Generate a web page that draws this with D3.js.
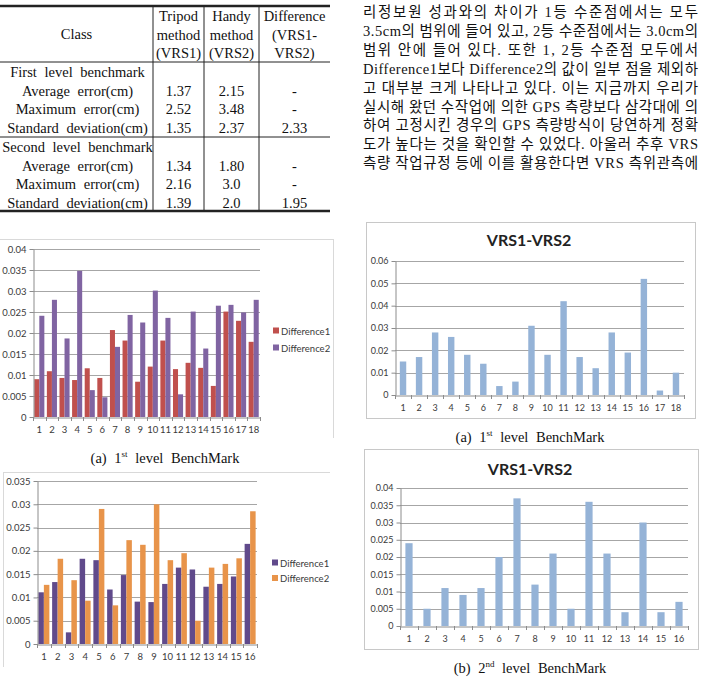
<!DOCTYPE html>
<html>
<head>
<meta charset="utf-8">
<script src="https://cdn.jsdelivr.net/npm/d3@7"></script>
<style>
  body { margin: 0; background: #fff; }
  svg { display: block; }
</style>
</head>
<body>
<svg id="page" width="705" height="678"></svg>
<script>
// ---- table data ----
const tableHead = [["Class"], ["Tripod", "method", "(VRS1)"], ["Handy", "method", "(VRS2)"], ["Difference", "(VRS1-", "VRS2)"]];
const tableRows = [
  ["First level benchmark", "", "", ""],
  ["Average error(cm)", "1.37", "2.15", "-"],
  ["Maximum error(cm)", "2.52", "3.48", "-"],
  ["Standard deviation(cm)", "1.35", "2.37", "2.33"],
  ["Second level benchmark", "", "", ""],
  ["Average error(cm)", "1.34", "1.80", "-"],
  ["Maximum error(cm)", "2.16", "3.0", "-"],
  ["Standard deviation(cm)", "1.39", "2.0", "1.95"]
];

// ---- paragraph text ----
const paraLines = [
  "리정보원 성과와의 차이가 1등 수준점에서는 모두",
  "3.5cm의 범위에 들어 있고, 2등 수준점에서는 3.0cm의",
  "범위 안에 들어 있다. 또한 1, 2등 수준점 모두에서",
  "Difference1보다 Difference2의 값이 일부 점을 제외하",
  "고 대부분 크게 나타나고 있다. 이는 지금까지 우리가",
  "실시해 왔던 수작업에 의한 GPS 측량보다 삼각대에 의",
  "하여 고정시킨 경우의 GPS 측량방식이 당연하게 정확",
  "도가 높다는 것을 확인할 수 있었다. 아울러 추후 VRS",
  "측량 작업규정 등에 이를 활용한다면 VRS 측위관측에"
];

// ---- chart data ----
const cats18 = ["1","2","3","4","5","6","7","8","9","10","11","12","13","14","15","16","17","18"];
const cats16 = ["1","2","3","4","5","6","7","8","9","10","11","12","13","14","15","16"];

const diff1First = [0.0090,0.0109,0.0093,0.0088,0.0116,0.0093,0.0207,0.0182,0.0084,0.0120,0.0182,0.0114,0.0129,0.0117,0.0074,0.0251,0.0229,0.0179];
const diff2First = [0.0241,0.0279,0.0187,0.0348,0.0064,0.0047,0.0167,0.0243,0.0225,0.0301,0.0236,0.0054,0.0251,0.0163,0.0265,0.0267,0.0249,0.0279];
const vrsFirst   = [0.015,0.017,0.028,0.026,0.018,0.014,0.004,0.006,0.031,0.018,0.042,0.017,0.012,0.028,0.019,0.052,0.002,0.010];

const diff1Second = [0.0111,0.0133,0.0025,0.0183,0.0180,0.0117,0.0148,0.0091,0.0090,0.0129,0.0164,0.0160,0.0123,0.0129,0.0145,0.0215];
const diff2Second = [0.0127,0.0183,0.0137,0.0093,0.0290,0.0083,0.0223,0.0213,0.0300,0.0180,0.0195,0.0050,0.0164,0.0172,0.0184,0.0285];
const vrsSecond   = [0.024,0.005,0.011,0.009,0.011,0.020,0.037,0.012,0.021,0.005,0.036,0.021,0.004,0.030,0.004,0.007];

const ticksA = [0,0.005,0.01,0.015,0.02,0.025,0.03,0.035,0.04];
const ticksB = [0,0.01,0.02,0.03,0.04,0.05,0.06];
const ticksC = [0,0.005,0.01,0.015,0.02,0.025,0.03,0.035];
const ticksD = [0,0.005,0.01,0.015,0.02,0.025,0.03,0.035,0.04];

const seriesNames = ["Difference1", "Difference2"];

const svg = d3.select("#page");
const SERIF = "'Liberation Serif', 'Times New Roman', serif";
const KOR = "'Liberation Serif', 'Noto Sans CJK KR', serif";
const CHART_FONT = "Lato, 'Open Sans', sans-serif";

svg.append("rect").attr("width", 705).attr("height", 678).attr("fill", "#fff");

// ---------- table ----------
const colX = [0, 153, 204, 259, 330];
const tbl = svg.append("g").attr("font-family", SERIF).attr("font-size", 14.5).attr("fill", "#111");

// header text
tableHead.forEach((lines, c) => {
  const cx = (colX[c] + colX[c + 1]) / 2 + (c === 0 ? 0 : 0);
  const y0 = lines.length === 1 ? 39 : 21;
  lines.forEach((t, i) => {
    tbl.append("text").attr("x", cx).attr("y", y0 + i * 18.5)
      .attr("text-anchor", "middle").text(t);
  });
});

// body rows
tableRows.forEach((row, r) => {
  const y = 77 + r * 18.6 + (r >= 4 ? 0.5 : 0);
  row.forEach((t, c) => {
    if (!t) return;
    tbl.append("text")
      .attr("x", (colX[c] + colX[c + 1]) / 2 + (c === 0 ? 1 : 0))
      .attr("y", y)
      .attr("text-anchor", "middle")
      .attr("word-spacing", c === 0 ? 4 : 0)
      .text(t);
  });
});

// rules
const rule = (x1, y1, x2, y2, w) => tbl.append("line")
  .attr("x1", x1).attr("y1", y1).attr("x2", x2).attr("y2", y2)
  .attr("stroke", "#222").attr("stroke-width", w);
rule(0, 6, 330, 6, 2.5);
rule(0, 62, 330, 62, 1);
rule(0, 137, 330, 137, 1);
rule(0, 211, 330, 211, 2.5);
[153, 204, 259].forEach(x => rule(x, 6, x, 211, 1));

// ---------- paragraph ----------
const para = svg.append("g").attr("font-family", KOR).attr("font-size", 14.5).attr("fill", "#111");
paraLines.forEach((t, i) => {
  para.append("text")
    .attr("x", 363).attr("y", 17 + i * 18.9)
    .attr("textLength", 335).attr("lengthAdjust", "spacing")
    .text(t);
});

// ---------- bar charts ----------
const fmt = d => d === 0 ? "0" : String(+d.toFixed(3));

function barChart(opt) {
  const g = svg.append("g").attr("font-family", CHART_FONT);
  const x = d3.scaleBand().domain(opt.cats).range([opt.left, opt.right]);
  const y = d3.scaleLinear().domain([0, opt.max]).range([opt.bottom, opt.top]);
  const inner = d3.scaleBand().domain(d3.range(opt.series.length))
    .range([0, x.bandwidth()]).paddingOuter(opt.series.length === 1 ? 0.75 : 0.25);

  // gridlines
  g.append("g").selectAll("line").data(opt.ticks.slice(1)).join("line")
    .attr("x1", opt.left).attr("x2", opt.right)
    .attr("y1", d => Math.round(y(d)) + 0.5).attr("y2", d => Math.round(y(d)) + 0.5)
    .attr("stroke", "#a6a6a6").attr("stroke-width", 1);

  // bars
  opt.series.forEach((vals, s) => {
    g.append("g").attr("fill", opt.colors[s]).selectAll("rect").data(vals).join("rect")
      .attr("x", (d, i) => x(opt.cats[i]) + inner(s))
      .attr("y", d => y(d))
      .attr("width", inner.bandwidth())
      .attr("height", d => opt.bottom - y(d));
  });

  // y axis
  const ya = g.append("g").attr("transform", `translate(${opt.left + 0.5},0)`)
    .call(d3.axisLeft(y).tickValues(opt.ticks).tickFormat(fmt).tickSize(4).tickPadding(3).tickSizeOuter(0));
  ya.select(".domain").attr("stroke", "#8c8c8c");
  ya.selectAll(".tick line").attr("stroke", "#8c8c8c");
  ya.selectAll("text").attr("font-size", opt.fs).attr("fill", "#3a3a3a").attr("font-family", CHART_FONT);

  // x axis (Excel style: ticks between categories)
  const xa = g.append("g").attr("transform", `translate(0,${opt.bottom + 0.5})`)
    .call(d3.axisBottom(x).tickSize(0).tickPadding(opt.xPad).tickSizeOuter(0));
  xa.select(".domain").attr("stroke", "#8c8c8c");
  xa.selectAll("text").attr("font-size", opt.fs).attr("fill", "#3a3a3a").attr("font-family", CHART_FONT);
  g.append("g").selectAll("line").data(opt.cats.concat(["end"])).join("line")
    .attr("x1", (d, i) => Math.round(opt.left + i * x.step()) + 0.5)
    .attr("x2", (d, i) => Math.round(opt.left + i * x.step()) + 0.5)
    .attr("y1", opt.bottom).attr("y2", opt.bottom + 4)
    .attr("stroke", "#8c8c8c");

  // title
  if (opt.title) {
    g.append("text").attr("x", opt.titleX).attr("y", opt.titleY)
      .attr("text-anchor", "middle").attr("font-weight", "bold")
      .attr("font-size", 16).attr("fill", "#222").text(opt.title);
  }

  // legend
  if (opt.legend) {
    opt.legend.forEach((name, i) => {
      const ly = opt.legendY + i * opt.legendGap;
      g.append("rect").attr("x", opt.legendX).attr("y", ly - 3.5)
        .attr("width", 6).attr("height", 6).attr("fill", opt.colors[i]);
      g.append("text").attr("x", opt.legendX + 8).attr("y", ly + 3.5)
        .attr("font-size", 9.5).attr("fill", "#3a3a3a").text(name);
    });
  }
}

function frame(x, y, w, h) {
  svg.append("rect").attr("x", x + 0.5).attr("y", y + 0.5).attr("width", w).attr("height", h)
    .attr("fill", "none").attr("stroke", "#c8c8c8");
}

function caption(letter, num, sup, cx, y) {
  const t = svg.append("text").attr("x", cx).attr("y", y).attr("text-anchor", "middle")
    .attr("font-family", SERIF).attr("font-size", 14.5).attr("fill", "#111").attr("word-spacing", 4);
  t.append("tspan").text(`(${letter})  ${num}`);
  t.append("tspan").attr("font-size", 9).attr("dy", -6).text(sup);
  t.append("tspan").attr("dy", 6).text("  level  BenchMark");
}

// (a) left: Difference1 / Difference2, 1st level
svg.append("line").attr("x1", 0).attr("x2", 333).attr("y1", 239.5).attr("y2", 239.5).attr("stroke", "#d9d9d9");
svg.append("line").attr("x1", 333.5).attr("x2", 333.5).attr("y1", 239).attr("y2", 438).attr("stroke", "#d9d9d9");
barChart({
  cats: cats18, series: [diff1First, diff2First], colors: ["#c0504d", "#8064a2"],
  max: 0.04, ticks: ticksA, left: 33, right: 260, top: 249, bottom: 417,
  fs: 9.5, xPad: 9, legend: seriesNames, legendX: 273, legendY: 331, legendGap: 17
});
caption("a", "1", "st", 165, 463);

// (a) right: VRS1-VRS2, 1st level
frame(366, 222, 329, 196);
barChart({
  cats: cats18, series: [vrsFirst], colors: ["#95b3d7"],
  max: 0.06, ticks: ticksB, left: 395, right: 684, top: 261, bottom: 395,
  fs: 9, xPad: 9, title: "VRS1-VRS2", titleX: 529, titleY: 246
});
caption("a", "1", "st", 530, 442);

// (b) left: Difference1 / Difference2, 2nd level
svg.append("line").attr("x1", 3).attr("x2", 330).attr("y1", 472.5).attr("y2", 472.5).attr("stroke", "#d9d9d9");
svg.append("line").attr("x1", 3.5).attr("x2", 3.5).attr("y1", 472).attr("y2", 667).attr("stroke", "#d9d9d9");
barChart({
  cats: cats16, series: [diff1Second, diff2Second], colors: ["#604a8b", "#e8944a"],
  max: 0.035, ticks: ticksC, left: 37, right: 257, top: 481, bottom: 644,
  fs: 9.5, xPad: 9, legend: seriesNames, legendX: 272, legendY: 563, legendGap: 15.5
});
caption("b", "2", "nd", 165, 690);

// (b) right: VRS1-VRS2, 2nd level
frame(364, 449, 334, 200);
barChart({
  cats: cats16, series: [vrsSecond], colors: ["#95b3d7"],
  max: 0.04, ticks: ticksD, left: 400, right: 688, top: 488, bottom: 626,
  fs: 9, xPad: 9, title: "VRS1-VRS2", titleX: 530, titleY: 475
});
caption("b", "2", "nd", 530, 673);
</script>
</body>
</html>
